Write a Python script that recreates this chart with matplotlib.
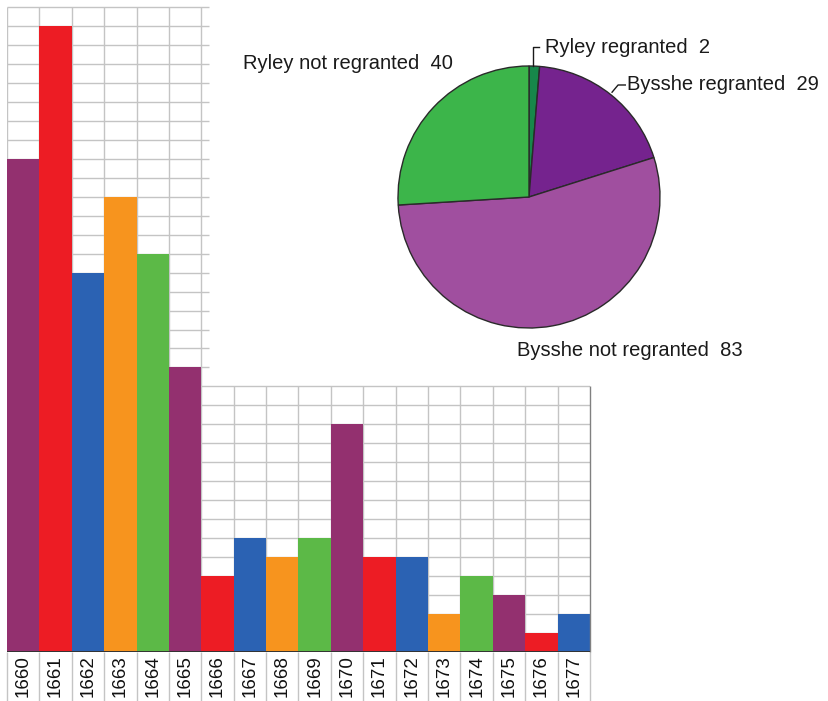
# Grants per year 1660-1677 as bars, with the regranted / not regranted split as an inset pie.
import matplotlib
matplotlib.use("Agg")
import matplotlib.pyplot as plt

FIG_W_PX: int = 829
FIG_H_PX: int = 701
DPI: int = 100

years: list[str] = [str(y) for y in range(1660, 1678)]
counts: list[int] = [26, 33, 20, 24, 21, 15, 4, 6, 5, 6, 12, 5, 5, 2, 4, 3, 1, 2]
bar_palette: list[str] = ["#93306f", "#ed1c24", "#2b62b3", "#f7941e", "#5cb947"]

pie_labels: list[str] = ["Ryley regranted", "Bysshe regranted", "Bysshe not regranted", "Ryley not regranted"]
pie_values: list[int] = [2, 29, 83, 40]
pie_colors: list[str] = ["#17874a", "#75238e", "#a04f9f", "#3cb54a"]

GRID_COLOR: str = "#c4c4c4"

plt.rcParams["font.family"] = ["Liberation Sans", "DejaVu Sans"]
fig = plt.figure(figsize=(FIG_W_PX / DPI, FIG_H_PX / DPI), dpi=DPI)

# bar chart: baseline at y=652px, one unit = 19px, columns 7..590px
ax = fig.add_axes([7 / FIG_W_PX, (FIG_H_PX - 652) / FIG_H_PX, 583 / FIG_W_PX, 645 / FIG_H_PX])
n = len(years)
ax.set_xlim(-0.5, n - 0.5)
ax.set_ylim(0, 34)

# the grid is taller over the first six columns than over the rest
ax.hlines(range(1, 15), -0.5, n - 0.5, color=GRID_COLOR, lw=1, zorder=1)
ax.hlines(range(15, 35), -0.5, 5.75, color=GRID_COLOR, lw=1, zorder=1, clip_on=False)
ax.vlines([x - 0.5 for x in range(0, 7)], 0, 34, color=GRID_COLOR, lw=1, zorder=1)
ax.vlines([x - 0.5 for x in range(7, n)], 0, 14, color=GRID_COLOR, lw=1, zorder=1)
ax.vlines([n - 0.5], 0, 14, color="#808080", lw=1, zorder=3, clip_on=False)
# separators between the year labels below the baseline
ax.vlines([x - 0.5 for x in range(0, n + 1)], -2.6, 0, color=GRID_COLOR, lw=1, clip_on=False)

colors = [bar_palette[i % len(bar_palette)] for i in range(n)]
ax.bar(range(n), counts, width=1.0, color=colors, zorder=2)
ax.axhline(0, color="#333333", lw=1.4, zorder=4)

for side in ["top", "right", "left", "bottom"]:
    ax.spines[side].set_visible(False)
ax.set_yticks([])
ax.set_xticks(range(n))
ax.set_xticklabels(years, rotation=90, fontsize=13.5, color="#111111")
ax.tick_params(axis="x", length=0, pad=2)

# pie inset: centre (529,197)px, radius 131px
R = 131
pax = fig.add_axes([(529 - R) / FIG_W_PX, (FIG_H_PX - 197 - R) / FIG_H_PX, 2 * R / FIG_W_PX, 2 * R / FIG_H_PX])
pax.pie(pie_values, colors=pie_colors, startangle=90, counterclock=False,
        wedgeprops={"edgecolor": "#2a2a2a", "linewidth": 1})
pax.set_xlim(-1, 1)
pax.set_ylim(-1, 1)

label_fs = 14.5
txt = {"fontsize": label_fs, "color": "#1a1a1a", "va": "center", "clip_on": False}
pax.text(-0.58, 1.02, f"{pie_labels[3]}  {pie_values[3]}", ha="right", **txt)
pax.text(0.12, 1.145, f"{pie_labels[0]}  {pie_values[0]}", ha="left", **txt)
pax.text(0.75, 0.855, f"{pie_labels[1]}  {pie_values[1]}", ha="left", **txt)
pax.text(-0.09, -1.168, f"{pie_labels[2]}  {pie_values[2]}", ha="left", **txt)
# leader lines
pax.plot([0.03, 0.03, 0.08], [1.0, 1.145, 1.145], color="#1a1a1a", lw=1, clip_on=False)
pax.plot([0.634, 0.68, 0.735], [0.80, 0.855, 0.855], color="#1a1a1a", lw=1, clip_on=False)

plt.savefig("out.png", dpi=DPI)
